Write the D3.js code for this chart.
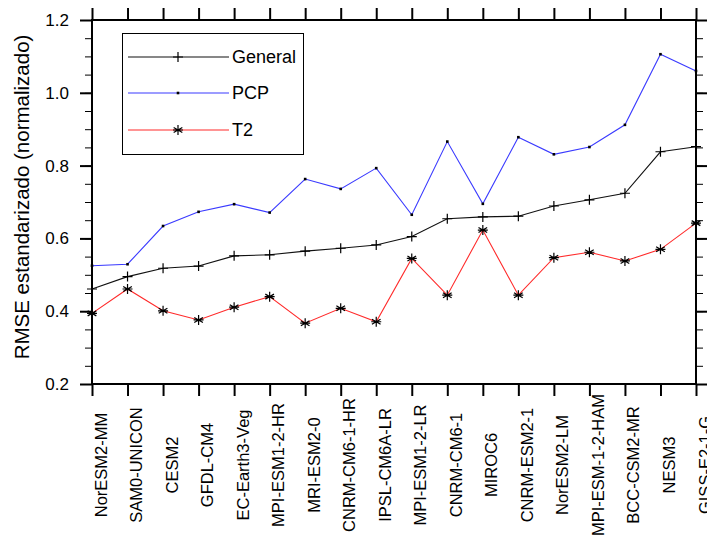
<!DOCTYPE html>
<html lang="es">

<head>
    <meta charset="UTF-8">
    <title>RMSE estandarizado por modelo</title>
    <style>
        body {
            margin: 0;
            background: white;
        }

        svg {
            display: block;
            font-family: "Liberation Sans", Arial, Helvetica, sans-serif;
        }

        .axis text {
            font-size: 17px;
            fill: black;
        }

        .axis line {
            stroke: black;
        }

        .axis path {
            display: none;
        }

        .frame {
            fill: none;
            stroke: black;
            stroke-width: 2;
        }

        .series {
            fill: none;
            stroke-width: 1.1;
        }
    </style>
</head>

<body>
    <svg id="chart" width="707" height="537"></svg>

    <script src="https://cdn.jsdelivr.net/npm/d3@7"></script>
    <script>
        const models = ["NorESM2-MM", "SAM0-UNICON", "CESM2", "GFDL-CM4", "EC-Earth3-Veg",
            "MPI-ESM1-2-HR", "MRI-ESM2-0", "CNRM-CM6-1-HR", "IPSL-CM6A-LR", "MPI-ESM1-2-LR",
            "CNRM-CM6-1", "MIROC6", "CNRM-ESM2-1", "NorESM2-LM", "MPI-ESM-1-2-HAM",
            "BCC-CSM2-MR", "NESM3", "GISS-E2-1-G"];

        const general = [0.461, 0.495, 0.518, 0.524, 0.552, 0.555, 0.565, 0.573, 0.582,
            0.605, 0.654, 0.659, 0.661, 0.689, 0.706, 0.724, 0.838, 0.852];
        const pcp = [0.525, 0.529, 0.634, 0.673, 0.694, 0.671, 0.763, 0.736, 0.793,
            0.665, 0.866, 0.695, 0.878, 0.831, 0.851, 0.912, 1.106, 1.060];
        const t2 = [0.394, 0.461, 0.401, 0.376, 0.411, 0.440, 0.367, 0.408, 0.371,
            0.545, 0.444, 0.623, 0.444, 0.547, 0.562, 0.538, 0.570, 0.642];

        const yTicks = [0.2, 0.4, 0.6, 0.8, 1.0, 1.2];
        const yMinorTicks = d3.range(0.2, 1.2001, 0.05);
        const legendNames = ["General", "PCP", "T2"];

        const plotLeft = 92, plotRight = 696, plotTop = 20, plotBottom = 384;

        const svg = d3.select("#chart");

        const x = d3.scalePoint().domain(models).range([plotLeft, plotRight]);
        const y = d3.scaleLinear().domain([0.2, 1.2]).range([plotBottom, plotTop]);

        // minor ticks (left and right)
        svg.append("g")
            .attr("class", "axis")
            .attr("transform", `translate(${plotLeft},0)`)
            .call(d3.axisLeft(y).tickValues(yMinorTicks).tickSize(7).tickFormat(""));
        svg.append("g")
            .attr("class", "axis")
            .attr("transform", `translate(${plotRight},0)`)
            .call(d3.axisRight(y).tickValues(yMinorTicks).tickSize(7).tickFormat(""));

        // major ticks
        const yLeft = svg.append("g")
            .attr("class", "axis")
            .attr("transform", `translate(${plotLeft},0)`)
            .call(d3.axisLeft(y).tickValues(yTicks).tickSize(12).tickPadding(11)
                .tickFormat(d3.format(".1f")));
        yLeft.selectAll("line").attr("stroke-width", 2);

        svg.append("g")
            .attr("class", "axis")
            .attr("transform", `translate(${plotRight},0)`)
            .call(d3.axisRight(y).tickValues(yTicks).tickSize(12).tickFormat(""))
            .selectAll("line").attr("stroke-width", 2);

        svg.append("g")
            .attr("class", "axis")
            .attr("transform", `translate(0,${plotTop})`)
            .call(d3.axisTop(x).tickSize(12).tickFormat(""))
            .selectAll("line").attr("stroke-width", 2);

        // x labels are centred on a common line below the axis
        const xAxis = svg.append("g")
            .attr("class", "axis")
            .attr("transform", `translate(0,${plotBottom})`)
            .call(d3.axisBottom(x).tickSize(12));
        xAxis.selectAll("line").attr("stroke-width", 2);
        xAxis.selectAll("text")
            .attr("transform", "rotate(-90)")
            .attr("text-anchor", "middle")
            .attr("x", -81)
            .attr("y", 14)
            .attr("dy", 0)
            .style("font-size", "16.5px");

        svg.append("rect")
            .attr("class", "frame")
            .attr("x", plotLeft)
            .attr("y", plotTop)
            .attr("width", plotRight - plotLeft)
            .attr("height", plotBottom - plotTop);

        // y axis title
        svg.append("text")
            .attr("transform", "translate(29,197) rotate(-90)")
            .attr("text-anchor", "middle")
            .attr("font-size", 20.5)
            .text("RMSE estandarizado (normalizado)");

        // marker shapes
        function drawPlus(g, cx, cy) {
            g.append("path")
                .attr("d", `M${cx - 5},${cy}H${cx + 5}M${cx},${cy - 5}V${cy + 5}`)
                .attr("stroke", "black").attr("stroke-width", 1.2);
        }

        function drawDot(g, cx, cy) {
            g.append("rect")
                .attr("x", cx - 1.3).attr("y", cy - 1.3)
                .attr("width", 2.6).attr("height", 2.6)
                .attr("fill", "black");
        }

        function drawStar(g, cx, cy) {
            const r = 5;
            let d = `M${cx},${cy - r}V${cy + r}`;
            [30, 150].forEach(a => {
                const dx = r * Math.cos(a * Math.PI / 180);
                const dy = r * Math.sin(a * Math.PI / 180);
                d += `M${cx - dx},${cy - dy}L${cx + dx},${cy + dy}`;
            });
            d += `M${cx - r},${cy}H${cx + r}`;
            g.append("path").attr("d", d)
                .attr("stroke", "black").attr("stroke-width", 1.2);
        }

        const series = [
            { values: general, color: "#111", marker: drawPlus },
            { values: pcp, color: "#3a3aff", marker: drawDot },
            { values: t2, color: "#ff2a2a", marker: drawStar }
        ];

        const line = d3.line()
            .x((d, i) => x(models[i]))
            .y(d => y(d));

        series.forEach(s => {
            svg.append("path")
                .attr("class", "series")
                .attr("stroke", s.color)
                .attr("d", line(s.values));
        });

        series.forEach(s => {
            const g = svg.append("g");
            s.values.forEach((v, i) => s.marker(g, x(models[i]), y(v)));
        });

        // legend
        const legendRows = [57, 93, 130];
        const legend = svg.append("g");
        legend.append("rect")
            .attr("x", 122.5).attr("y", 33.5)
            .attr("width", 181).attr("height", 121)
            .attr("fill", "white")
            .attr("stroke", "black")
            .attr("stroke-width", 1);

        series.forEach((s, i) => {
            const ly = legendRows[i];
            legend.append("line")
                .attr("x1", 128).attr("x2", 229)
                .attr("y1", ly).attr("y2", ly)
                .attr("stroke", s.color)
                .attr("stroke-width", 1.2);
            s.marker(legend, 178, ly);
            legend.append("text")
                .attr("x", 232).attr("y", ly)
                .attr("dy", "0.36em")
                .attr("font-size", 18)
                .text(legendNames[i]);
        });
    </script>
</body>

</html>
